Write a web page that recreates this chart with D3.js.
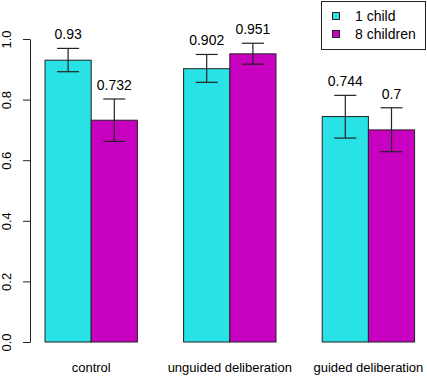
<!DOCTYPE html>
<html lang="en">
<head>
  <meta charset="UTF-8" />
  <title>Bar chart</title>
  <style>
    body { margin: 0; background: #fff; }
    svg text { font-family: "Liberation Sans", Arial, sans-serif; fill: #000; }
  </style>
</head>
<body>
  <div id="chart"></div>

  <script src="https://cdn.jsdelivr.net/npm/d3@7/dist/d3.min.js"></script>
  <script>
  // data
  var groups = ["control", "unguided deliberation", "guided deliberation"];
  var seriesNames = ["1 child", "8 children"];
  var oneChild = [0.93, 0.902, 0.744];
  var eightChildren = [0.732, 0.951, 0.7];
  var oneChildLo = [0.892, 0.857, 0.673];
  var oneChildHi = [0.969, 0.949, 0.814];
  var eightLo = [0.662, 0.917, 0.628];
  var eightHi = [0.802, 0.986, 0.773];
  var yTicks = [0, 0.2, 0.4, 0.6, 0.8, 1.0];
  var colors = ["#29e2e5", "#c800c0"];

  var width = 427, height = 376;

  var svg = d3.select("#chart")
    .append("svg")
    .attr("width", width)
    .attr("height", height);

  // R style barplot: each group has 2 bars, a one-bar gap before every group
  var xScale = d3.scaleLinear()
    .domain([0, 9])
    .range([-1.2, 414.6]);

  var yScale = d3.scaleLinear()
    .domain([0, 1])
    .range([342, 39]);

  var values = [oneChild, eightChildren];
  var lows = [oneChildLo, eightLo];
  var highs = [oneChildHi, eightHi];

  var bars = [];
  groups.forEach(function(g, gi) {
    values.forEach(function(v, si) {
      var start = gi * 3 + 1 + si;
      bars.push({
        x0: start,
        x1: start + 1,
        value: v[gi],
        lo: lows[si][gi],
        hi: highs[si][gi],
        series: si
      });
    });
  });

  svg.selectAll("rect.bar")
    .data(bars)
    .enter()
    .append("rect")
    .attr("class", "bar")
    .attr("x", function(d) { return xScale(d.x0); })
    .attr("y", function(d) { return yScale(d.value); })
    .attr("width", function(d) { return xScale(d.x1) - xScale(d.x0); })
    .attr("height", function(d) { return yScale(0) - yScale(d.value); })
    .attr("fill", function(d) { return colors[d.series]; })
    .attr("stroke", "#222")
    .attr("stroke-width", 1);

  // error bars
  var capHalf = 11;
  var err = svg.selectAll("g.err")
    .data(bars)
    .enter()
    .append("g")
    .attr("class", "err")
    .attr("stroke", "#222")
    .attr("stroke-width", 1.2);

  err.append("line")
    .attr("x1", function(d) { return xScale((d.x0 + d.x1) / 2); })
    .attr("x2", function(d) { return xScale((d.x0 + d.x1) / 2); })
    .attr("y1", function(d) { return yScale(d.lo); })
    .attr("y2", function(d) { return yScale(d.hi); });
  err.append("line")
    .attr("x1", function(d) { return xScale((d.x0 + d.x1) / 2) - capHalf; })
    .attr("x2", function(d) { return xScale((d.x0 + d.x1) / 2) + capHalf; })
    .attr("y1", function(d) { return yScale(d.hi); })
    .attr("y2", function(d) { return yScale(d.hi); });
  err.append("line")
    .attr("x1", function(d) { return xScale((d.x0 + d.x1) / 2) - capHalf; })
    .attr("x2", function(d) { return xScale((d.x0 + d.x1) / 2) + capHalf; })
    .attr("y1", function(d) { return yScale(d.lo); })
    .attr("y2", function(d) { return yScale(d.lo); });

  // value labels
  svg.selectAll("text.val")
    .data(bars)
    .enter()
    .append("text")
    .attr("class", "val")
    .attr("x", function(d) { return xScale((d.x0 + d.x1) / 2); })
    .attr("y", function(d) { return yScale(d.hi) - 9; })
    .attr("text-anchor", "middle")
    .attr("font-size", "14px")
    .text(function(d) { return String(d.value); });

  // group labels
  svg.selectAll("text.grp")
    .data(groups)
    .enter()
    .append("text")
    .attr("class", "grp")
    .attr("x", function(d, i) { return xScale(i * 3 + 2); })
    .attr("y", 372)
    .attr("text-anchor", "middle")
    .attr("font-size", "13px")
    .text(function(d) { return d; });

  // y axis
  var yAxis = d3.axisLeft(yScale)
    .tickValues(yTicks)
    .tickSize(7)
    .tickSizeOuter(0)
    .tickFormat(d3.format(".1f"));

  var ga = svg.append("g")
    .attr("transform", "translate(30,0)")
    .call(yAxis);
  ga.select(".domain").attr("stroke", "#222");
  ga.selectAll(".tick line").attr("stroke", "#222");
  ga.selectAll("text")
    .attr("x", 0)
    .attr("y", 0)
    .attr("dy", null)
    .attr("text-anchor", "middle")
    .attr("transform", "translate(-19,0) rotate(-90)")
    .attr("font-size", "13px")
    .attr("font-family", "Liberation Sans, Arial, sans-serif")
    .attr("fill", "#000");

  // legend
  var legend = svg.append("g");
  legend.append("rect")
    .attr("x", 321.5)
    .attr("y", 1.5)
    .attr("width", 104)
    .attr("height", 48)
    .attr("fill", "#fff")
    .attr("stroke", "#222");
  seriesNames.forEach(function(name, i) {
    var cy = 16 + i * 18;
    legend.append("rect")
      .attr("x", 332.5)
      .attr("y", cy - 3.5)
      .attr("width", 7)
      .attr("height", 7)
      .attr("fill", colors[i])
      .attr("stroke", "#222");
    legend.append("text")
      .attr("x", 355)
      .attr("y", cy + 5)
      .attr("font-size", "14px")
      .text(name);
  });
  </script>
</body>
</html>
